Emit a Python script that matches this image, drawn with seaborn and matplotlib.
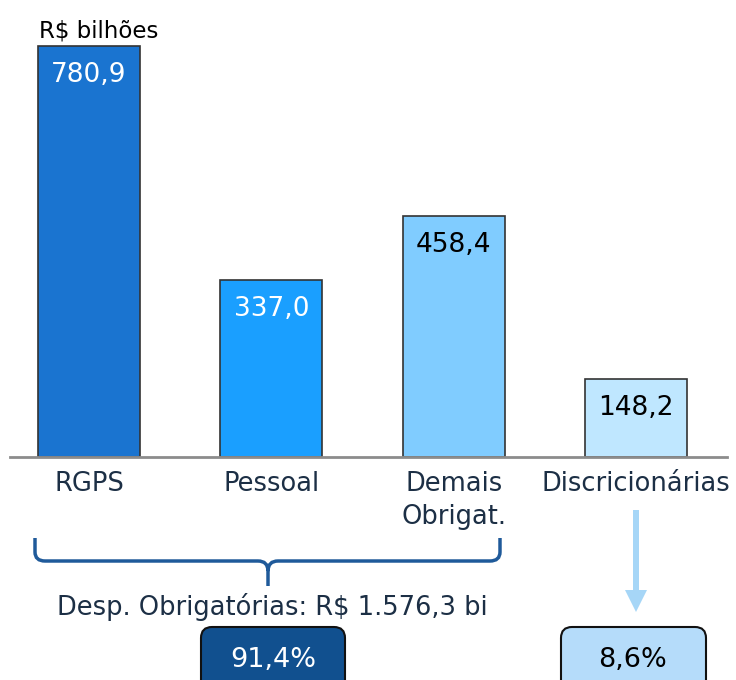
import matplotlib
matplotlib.use("Agg")
import matplotlib.pyplot as plt
import seaborn as sns
import pandas as pd
from matplotlib.patches import FancyBboxPatch, FancyArrow
from matplotlib.path import Path
from matplotlib.patches import PathPatch

# --- data ---
categories = ["RGPS", "Pessoal", "Demais\nObrigat.", "Discricionárias"]
values = [780.9, 337.0, 458.4, 148.2]
value_labels = ["780,9", "337,0", "458,4", "148,2"]
bar_colors = ["#1a74d0", "#1a9fff", "#80ccff", "#bfe7ff"]
label_colors = ["white", "white", "black", "black"]
unit_label = "R$ bilhões"
total_label = "Desp. Obrigatórias: R$ 1.576,3 bi"
share_labels = ["91,4%", "8,6%"]

W, H = 736, 680
navy = "#1c2f45"

sns.set_style("white")
plt.rcParams["font.family"] = ["DejaVu Sans"]

df = pd.DataFrame({"cat": categories, "val": values})

fig = plt.figure(figsize=(W / 100, H / 100), dpi=100)
# bar axes: baseline at 457 px from top, axis line from x=10 to x=727
ax = fig.add_axes([10 / W, (H - 457) / H, 717 / W, 457 / H])
sns.barplot(data=df, x="cat", y="val", hue="cat", palette=bar_colors,
            saturation=1, width=0.56, edgecolor="#333333", linewidth=1.2,
            legend=False, ax=ax)
ax.set_xlim(-0.433, 3.499)
ax.set_ylim(0, 457 / 0.5263)
ax.set_xlabel("")
ax.set_ylabel("")
ax.set_yticks([])
for s in ["top", "right", "left"]:
    ax.spines[s].set_visible(False)
ax.spines["bottom"].set_color("#8c8c8c")
ax.spines["bottom"].set_linewidth(2)
ax.tick_params(axis="x", length=0, pad=10, labelsize=18.5, labelcolor=navy)
for t in ax.get_xticklabels():
    t.set_linespacing(1.35)
ax.patch.set_alpha(0)

for i, (v, lab) in enumerate(zip(values, value_labels)):
    ax.annotate(lab, xy=(i, v), xytext=(0, -21), textcoords="offset points",
                ha="center", va="center", fontsize=19, color=label_colors[i])

# overlay in pixel coordinates for the annotations below the bars
ov = fig.add_axes([0, 0, 1, 1])
ov.set_xlim(0, W)
ov.set_ylim(H, 0)
ov.axis("off")
ov.patch.set_alpha(0)

ov.text(39, 31, unit_label, ha="left", va="center", fontsize=16.5, color="black")

# brace
brace_col = "#1f5a9a"
verts = [(35, 538), (35, 552), (35, 561), (45, 561), (258, 561),
         (268, 561), (268, 571), (268, 586), (268, 571), (268, 561),
         (278, 561), (490, 561), (500, 561), (500, 552), (500, 538)]
codes = [Path.MOVETO, Path.LINETO, Path.CURVE3, Path.CURVE3, Path.LINETO,
         Path.CURVE3, Path.CURVE3, Path.LINETO, Path.MOVETO, Path.CURVE3,
         Path.CURVE3, Path.LINETO, Path.CURVE3, Path.CURVE3, Path.LINETO]
ov.add_patch(PathPatch(Path(verts, codes), fill=False, edgecolor=brace_col, lw=2.5))

ov.text(272, 607, total_label, ha="center", va="center", fontsize=18.5, color=navy)

# share boxes
ov.add_patch(FancyBboxPatch((201, 627), 144, 70, boxstyle="round,pad=0,rounding_size=11",
                            facecolor="#11508f", edgecolor="#111111", lw=1.5))
ov.text(273, 660, share_labels[0], ha="center", va="center", fontsize=19.5, color="white")
ov.add_patch(FancyBboxPatch((561, 627), 145, 70, boxstyle="round,pad=0,rounding_size=11",
                            facecolor="#b5dcfa", edgecolor="#111111", lw=1.5))
ov.text(633, 660, share_labels[1], ha="center", va="center", fontsize=19.5, color="black")

# arrow
ov.add_patch(FancyArrow(636, 510, 0, 102, width=6, head_width=22, head_length=22,
                        length_includes_head=True, color="#a6d6f7", lw=0))

fig.savefig("out.png", dpi=100)
